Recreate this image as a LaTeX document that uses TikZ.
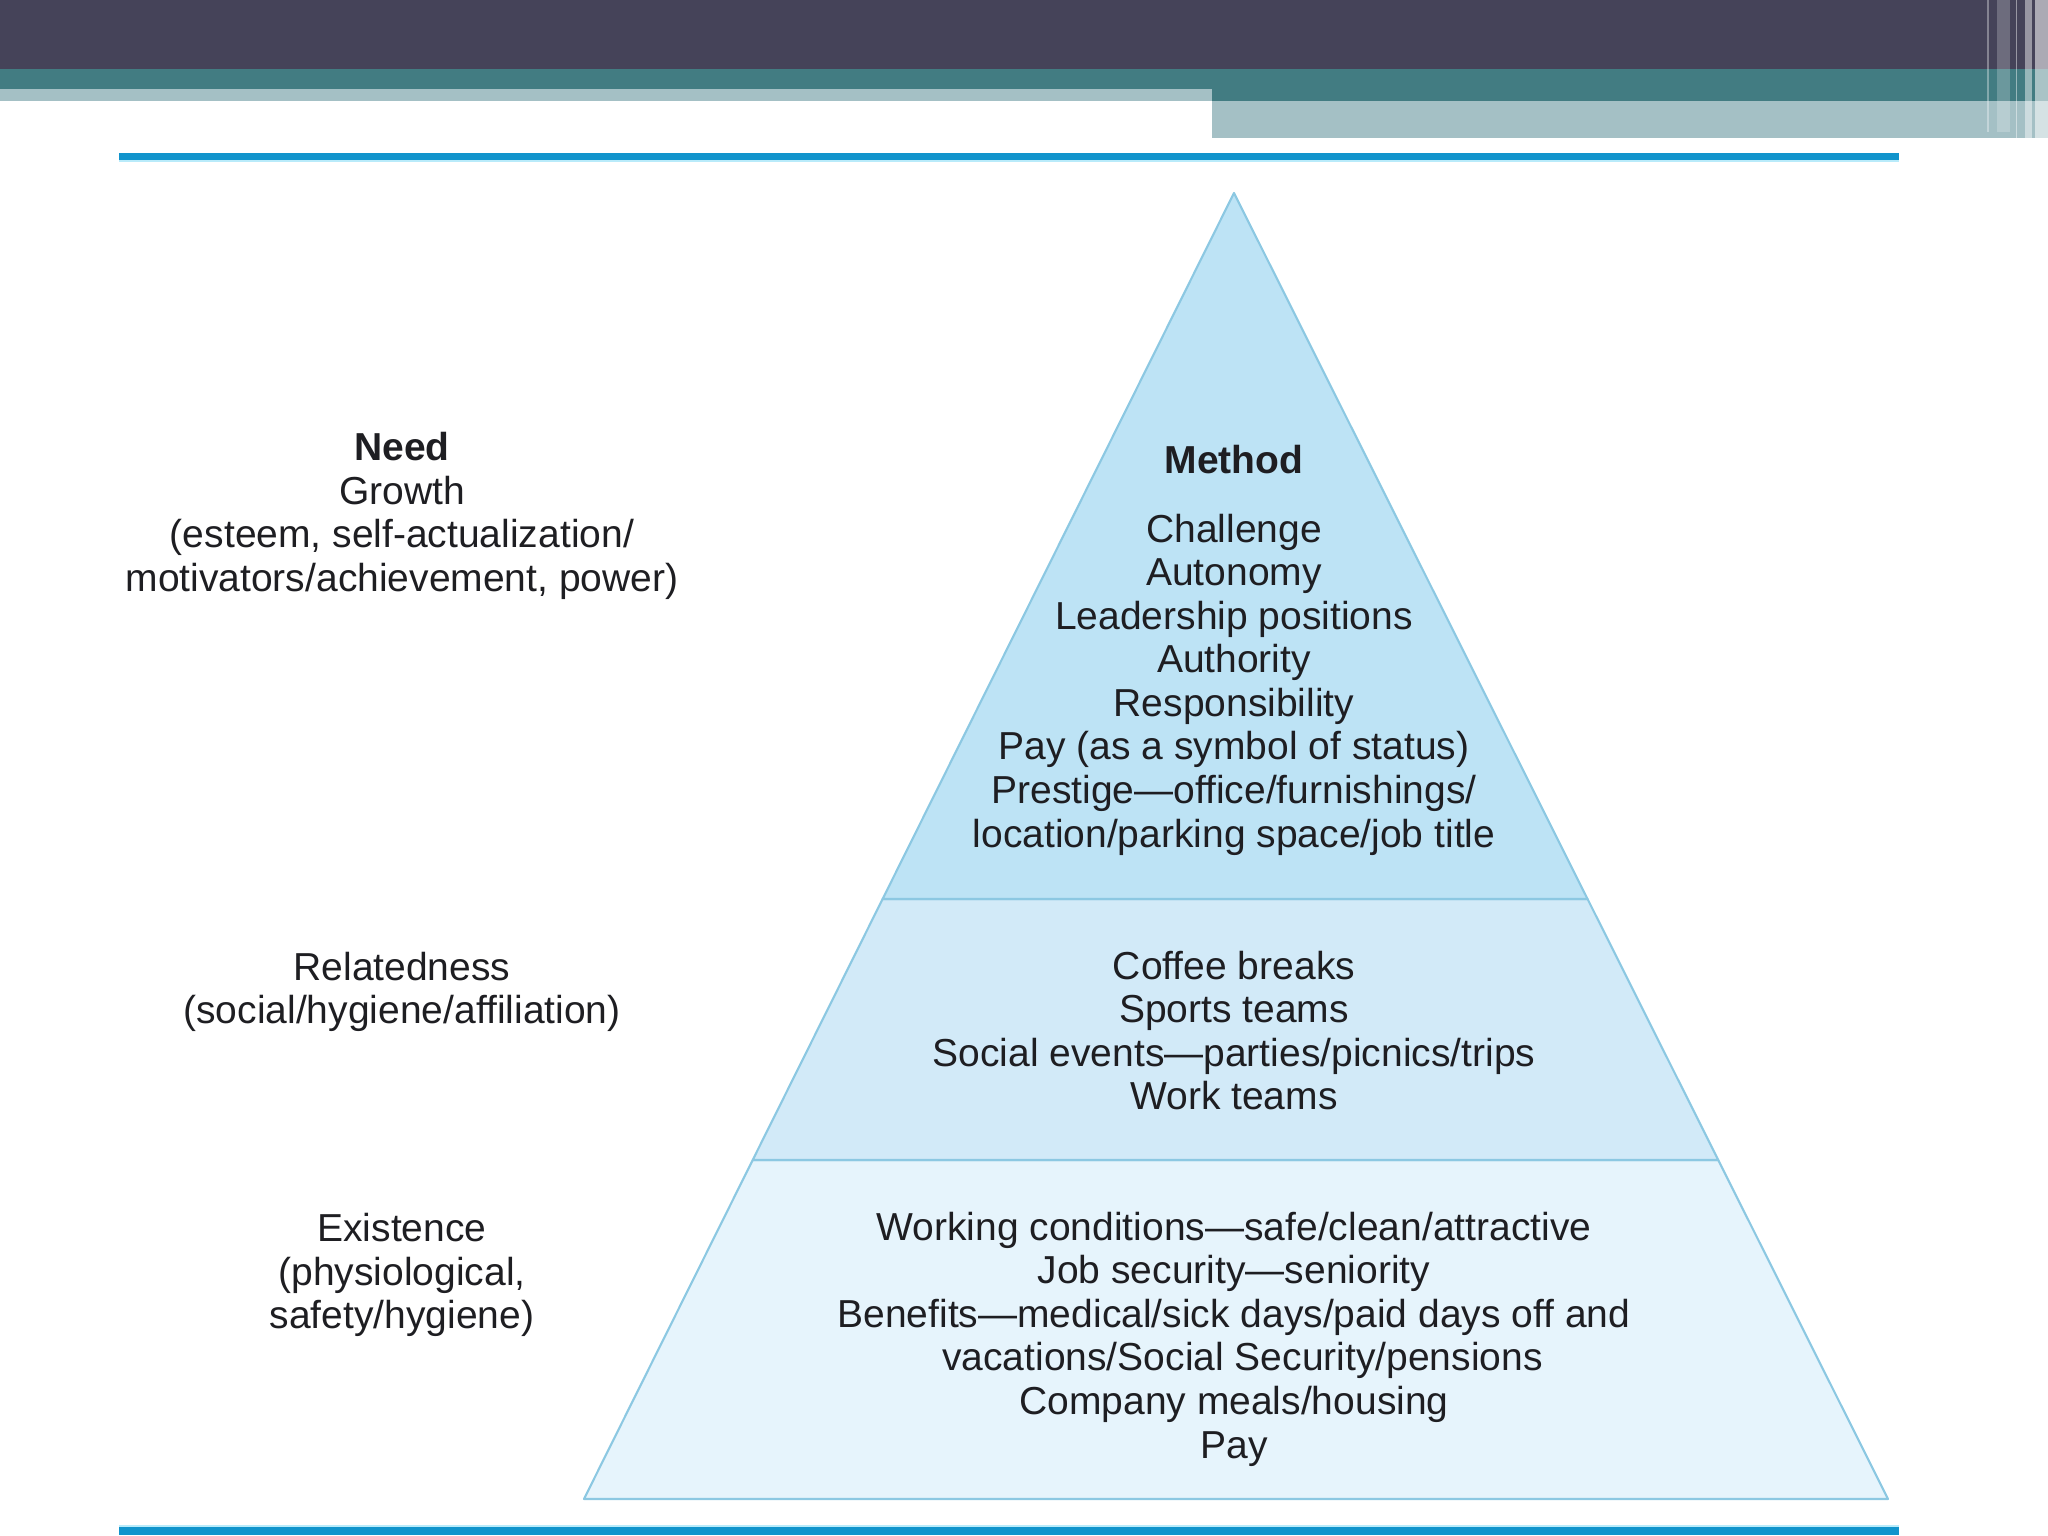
\documentclass[tikz,border=0pt]{standalone}
\usepackage{fontspec}
\setmainfont{Liberation Sans}
\usetikzlibrary{calc,positioning}

\definecolor{barDark}{RGB}{69,67,89}
\definecolor{barTeal}{RGB}{66,124,130}
\definecolor{barLight}{RGB}{164,192,197}
\definecolor{ruleBlue}{RGB}{17,148,204}
\definecolor{ruleGlow}{RGB}{185,235,250}
\definecolor{tierTop}{RGB}{189,227,245}
\definecolor{tierMid}{RGB}{210,234,248}
\definecolor{tierLow}{RGB}{230,244,252}
\definecolor{tierEdge}{RGB}{140,200,226}
\definecolor{inkGray}{RGB}{30,30,34}

\begin{document}
\begin{tikzpicture}[
    txt/.style={align=center, inner sep=0pt, text=inkGray,
      font=\fontsize{11.1}{12.4}\selectfont},
    tier/.style={draw=tierEdge, line width=0.6pt, line join=round},
    stripe/.style={fill=white, draw=none}
  ]
  \useasboundingbox (0,0) rectangle (20.48,15.36);

  % slide header bars
  \fill[barDark] (0,14.67) rectangle (20.48,15.36);
  \fill[barTeal] (0,14.47) rectangle (12.12,14.67);
  \fill[barTeal] (12.12,14.35) rectangle (20.48,14.67);
  \fill[barLight] (0,14.35) rectangle (12.12,14.47);
  \fill[barLight] (12.12,13.98) rectangle (20.48,14.35);
  \fill[stripe, opacity=0.35] (19.87,14.04) rectangle (19.89,15.36);
  \fill[stripe, opacity=0.22] (19.97,14.04) rectangle (20.10,15.36);
  \fill[stripe, opacity=0.45] (20.16,13.98) rectangle (20.17,15.36);
  \fill[stripe, opacity=0.45] (20.25,13.98) rectangle (20.32,15.36);
  \fill[stripe, opacity=0.55] (20.35,13.98) rectangle (20.48,15.36);

  % rules
  \fill[ruleBlue] (1.19,13.76) rectangle (18.99,13.83);
  \fill[ruleGlow] (1.19,13.74) rectangle (18.99,13.76);
  \fill[ruleGlow] (1.19,0.09) rectangle (18.99,0.11);
  \fill[ruleBlue] (1.19,0.01) rectangle (18.99,0.09);

  % pyramid
  \coordinate (apex) at (12.34,13.43);
  \coordinate (bl) at (5.84,0.37);
  \coordinate (br) at (18.88,0.37);
  \coordinate (ml) at ($(apex)!0.5406!(bl)$);
  \coordinate (mr) at ($(apex)!0.5406!(br)$);
  \coordinate (ll) at ($(apex)!0.7404!(bl)$);
  \coordinate (lr) at ($(apex)!0.7404!(br)$);

  \filldraw[tier, fill=tierLow] (ll) -- (lr) -- (br) -- (bl) -- cycle;
  \filldraw[tier, fill=tierMid] (ml) -- (mr) -- (lr) -- (ll) -- cycle;
  \filldraw[tier, fill=tierTop] (apex) -- (mr) -- (ml) -- cycle;

  % need column
  \node[txt] (growth) at (4.02,10.20)
    {\textbf{Need}\\Growth\\(esteem, self-actualization/\\motivators/achievement, power)};
  \node[txt] (related) at (4.02,5.44)
    {Relatedness\\(social/hygiene/affiliation)};
  \node[txt] (exist) at (4.02,2.61)
    {Existence\\(physiological,\\safety/hygiene)};

  % method column
  \node[txt, font=\fontsize{11.1}{12.4}\selectfont\bfseries] (method) at (12.34,10.765) {Method};
  \node[txt] (topmeth) at (12.34,8.515)
    {Challenge\\Autonomy\\Leadership positions\\Authority\\Responsibility\\
     Pay (as a symbol of status)\\Prestige—office/furnishings/\\
     location/parking space/job title};
  \node[txt] (midmeth) at (12.34,5.055)
    {Coffee breaks\\Sports teams\\Social events—parties/picnics/trips\\Work teams};
  \node[txt] (lowmeth) at (12.34,1.97)
    {Working conditions—safe/clean/attractive\\Job security—seniority\\
     Benefits—medical/sick days/paid days off and\\
     \hspace*{0.17cm}vacations/Social Security/pensions\\Company meals/housing\\Pay};
\end{tikzpicture}
\end{document}
